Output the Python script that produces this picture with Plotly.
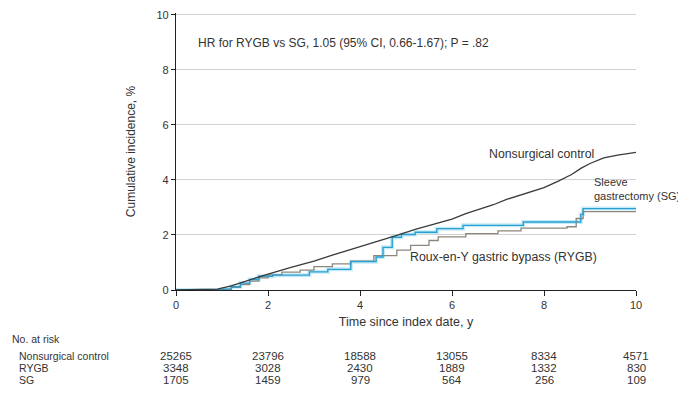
import plotly.graph_objects as go

# ---- data ----
ctrl_t = [0, 0.5, 0.9, 1.2, 1.6, 2.0, 2.5, 3.0, 3.4, 3.8, 4.3, 4.8, 5.2, 5.6, 6.0, 6.3, 6.6, 6.9, 7.2, 7.6, 8.0, 8.3, 8.6, 8.8, 9.0, 9.3, 9.6, 10.0]
ctrl_v = [0, 0.01, 0.03, 0.15, 0.37, 0.58, 0.82, 1.05, 1.27, 1.47, 1.72, 1.99, 2.2, 2.4, 2.58, 2.78, 2.95, 3.1, 3.3, 3.5, 3.72, 3.95, 4.2, 4.42, 4.6, 4.8, 4.9, 5.0]

rygb_t = [0, 1.0, 1.2, 1.4, 1.6, 1.8, 2.0, 2.3, 2.7, 3.0, 3.4, 3.8, 4.3, 4.8, 5.1, 5.5, 5.7, 6.3, 7.0, 7.5, 8.5, 8.7, 8.85, 10.0]
rygb_v = [0, 0.02, 0.1, 0.2, 0.32, 0.44, 0.55, 0.65, 0.72, 0.85, 0.95, 1.05, 1.25, 1.45, 1.62, 1.8, 1.93, 2.05, 2.15, 2.25, 2.3, 2.6, 2.85, 2.85]

sg_t = [0, 1.0, 1.2, 1.4, 1.6, 1.8, 2.1, 2.9, 3.3, 3.8, 4.35, 4.5, 4.7, 4.9, 5.2, 5.67, 6.24, 7.55, 8.8, 8.85, 10.0]
sg_v = [0, 0.03, 0.12, 0.25, 0.38, 0.5, 0.54, 0.66, 0.75, 1.03, 1.2, 1.55, 1.92, 2.02, 2.1, 2.23, 2.35, 2.47, 2.75, 2.96, 2.96]

risk_times = [0, 2, 4, 6, 8, 10]
risk_groups = ["Nonsurgical control", "RYGB", "SG"]
risk_ctrl = ["25265", "23796", "18588", "13055", "8334", "4571"]
risk_rygb = ["3348", "3028", "2430", "1889", "1332", "830"]
risk_sg = ["1705", "1459", "979", "564", "256", "109"]

x_ticks = [0, 2, 4, 6, 8, 10]
y_ticks = [0, 2, 4, 6, 8, 10]

FONT = "Liberation Sans, Arial, sans-serif"
TXT = "#333333"

fig = go.Figure()
fig.add_trace(go.Scatter(x=sg_t, y=sg_v, mode="lines", line=dict(color="#c4ebf8", width=4, shape="hv"),
                         hoverinfo="skip", showlegend=False))
fig.add_trace(go.Scatter(x=rygb_t, y=rygb_v, mode="lines", line=dict(color="#8d867c", width=1.3, shape="hv"),
                         name="RYGB", showlegend=False))
fig.add_trace(go.Scatter(x=sg_t, y=sg_v, mode="lines", line=dict(color="#2a9fd0", width=1.4, shape="hv"),
                         name="SG", showlegend=False))
fig.add_trace(go.Scatter(x=ctrl_t, y=ctrl_v, mode="lines", line=dict(color="#3a3a3a", width=1.3),
                         name="Nonsurgical control", showlegend=False))

LBL = 12.3
ann = []
ann.append(dict(x=0.43, y=8.99, xref="x", yref="y", text="HR for RYGB vs SG, 1.05 (95% CI, 0.66-1.67); P = .82",
                showarrow=False, xanchor="left", yanchor="middle", font=dict(size=12, color=TXT, family=FONT)))
ann.append(dict(x=6.76, y=4.96, xref="x", yref="y", text="Nonsurgical control", showarrow=False,
                xanchor="left", yanchor="middle", font=dict(size=LBL, color=TXT, family=FONT)))
ann.append(dict(x=9.05, y=3.68, xref="x", yref="y", text="Sleeve<br>gastrectomy (SG)", showarrow=False,
                xanchor="left", yanchor="middle", align="left", font=dict(size=11, color=TXT, family=FONT)))
ann.append(dict(x=5.04, y=1.2, xref="x", yref="y", text="Roux-en-Y gastric bypass (RYGB)", showarrow=False,
                xanchor="left", yanchor="middle", font=dict(size=LBL, color=TXT, family=FONT)))

# at-risk table (positions relative to plot area: top 14px, bottom 290px in page)
def py(p):
    return (290 - p) / 276.0

ann.append(dict(x=(10 - 176) / 460.0, y=py(339), xref="paper", yref="paper", text="No. at risk", showarrow=False,
                xanchor="left", yanchor="middle", font=dict(size=10.5, color=TXT, family=FONT)))
rows = [risk_ctrl, risk_rygb, risk_sg]
for i, (g, vals) in enumerate(zip(risk_groups, rows)):
    yy = py(356 + 12 * i)
    ann.append(dict(x=(17 - 176) / 460.0, y=yy, xref="paper", yref="paper", text=g, showarrow=False,
                    xanchor="left", yanchor="middle", font=dict(size=10.5, color=TXT, family=FONT)))
    for t, v in zip(risk_times, vals):
        ann.append(dict(x=t, y=yy, xref="x", yref="paper", text=v, showarrow=False,
                        xanchor="center", yanchor="middle", font=dict(size=11.5, color=TXT, family=FONT)))

# page body adds an 8px offset; compensate so the plot area sits at x 176-636, y 14-290
fig.update_layout(
    width=678, height=393,
    margin=dict(l=168, r=50, t=5, b=111, autoexpand=False),
    paper_bgcolor="white", plot_bgcolor="white",
    font=dict(family=FONT, size=10, color=TXT),
    annotations=ann,
    xaxis=dict(range=[0, 10], tickvals=x_ticks, ticktext=[str(v) for v in x_ticks],
               showgrid=False, zeroline=False, showline=True, linecolor="#222", linewidth=1.2,
               ticks="outside", ticklen=5, tickcolor="#222", tickfont=dict(size=11, color=TXT),
               ticklabeloverflow="allow", automargin=False,
               title=dict(text="Time since index date, y", font=dict(size=12.5, color=TXT), standoff=6)),
    yaxis=dict(range=[0, 10.07], tickvals=y_ticks, ticktext=[str(v) for v in y_ticks],
               showgrid=True, gridcolor="#d2d2d2", gridwidth=1, zeroline=False,
               showline=True, linecolor="#222", linewidth=1.2,
               ticks="outside", ticklen=4, tickcolor="#222", tickfont=dict(size=11, color=TXT),
               ticklabeloverflow="allow", automargin=False,
               title=dict(text="Cumulative incidence, %", font=dict(size=12, color=TXT), standoff=18)),
)

fig.write_html("out.html")
